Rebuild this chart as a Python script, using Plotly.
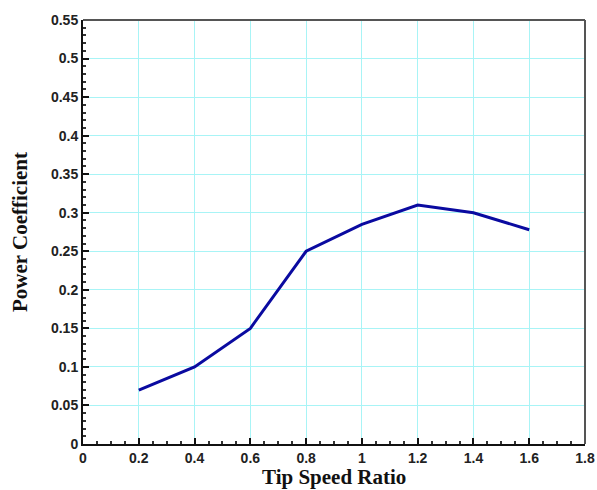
import plotly.graph_objects as go

tsr = [0.2, 0.4, 0.6, 0.8, 1.0, 1.2, 1.4, 1.6]
cp = [0.07, 0.10, 0.15, 0.25, 0.285, 0.31, 0.30, 0.278]
x_ticks = [0, 0.2, 0.4, 0.6, 0.8, 1, 1.2, 1.4, 1.6, 1.8]
x_labels = ["0", "0.2", "0.4", "0.6", "0.8", "1", "1.2", "1.4", "1.6", "1.8"]
y_ticks = [0, 0.05, 0.1, 0.15, 0.2, 0.25, 0.3, 0.35, 0.4, 0.45, 0.5, 0.55]
y_labels = ["0", "0.05", "0.1", "0.15", "0.2", "0.25", "0.3", "0.35", "0.4", "0.45", "0.5", "0.55"]

fig = go.Figure()
fig.add_trace(go.Scatter(x=tsr, y=cp, mode="lines",
                         line=dict(color="#0a0aa0", width=3)))

tickfont = dict(family="Liberation Sans, Arial", size=14, color="#222222")

fig.update_layout(
    width=597, height=490,
    margin=dict(l=83, r=12, t=20, b=46),
    paper_bgcolor="white", plot_bgcolor="white",
    showlegend=False,
    xaxis=dict(
        range=[0, 1.8], tickvals=x_ticks, ticktext=["<b>%s</b>" % t for t in x_labels],
        tickfont=tickfont, ticks="inside", ticklen=6, tickwidth=2, tickcolor="#111",
        showline=True, linecolor="#111", linewidth=2, mirror=False, automargin=False,
        showgrid=True, gridcolor="#a8f4f6", gridwidth=1, zeroline=False,
        minor=dict(dtick=0.05, tick0=0, ticks="inside", ticklen=3, tickcolor="#333", showgrid=False),
    ),
    yaxis=dict(
        range=[0, 0.55], tickvals=y_ticks, ticktext=["<b>%s</b>" % t for t in y_labels],
        tickfont=tickfont, ticks="inside", ticklen=6, tickwidth=2, tickcolor="#111",
        showline=True, linecolor="#111", linewidth=2, mirror=False, automargin=False,
        showgrid=True, gridcolor="#a8f4f6", gridwidth=1, zeroline=False,
        minor=dict(dtick=0.01, tick0=0, ticks="inside", ticklen=3, tickcolor="#333", showgrid=False),
        title=dict(text="<b>Power Coefficient</b>",
                   font=dict(family="Liberation Serif, Times New Roman", size=21, color="#111111"),
                   standoff=18),
    ),
)
fig.add_annotation(text="<b>Tip Speed Ratio</b>", xref="paper", yref="paper",
                   x=0.5, y=-0.1085, xanchor="center", yanchor="bottom", showarrow=False,
                   borderpad=0,
                   font=dict(family="Liberation Serif, Times New Roman", size=21, color="#111111"))
# top and right frame (grey)
fig.add_shape(type="line", xref="paper", yref="paper", x0=0, x1=1, y0=1, y1=1,
              line=dict(color="#555555", width=2))
fig.add_shape(type="line", xref="paper", yref="paper", x0=1, x1=1, y0=0, y1=1,
              line=dict(color="#555555", width=2))

fig.write_html("out.html")
